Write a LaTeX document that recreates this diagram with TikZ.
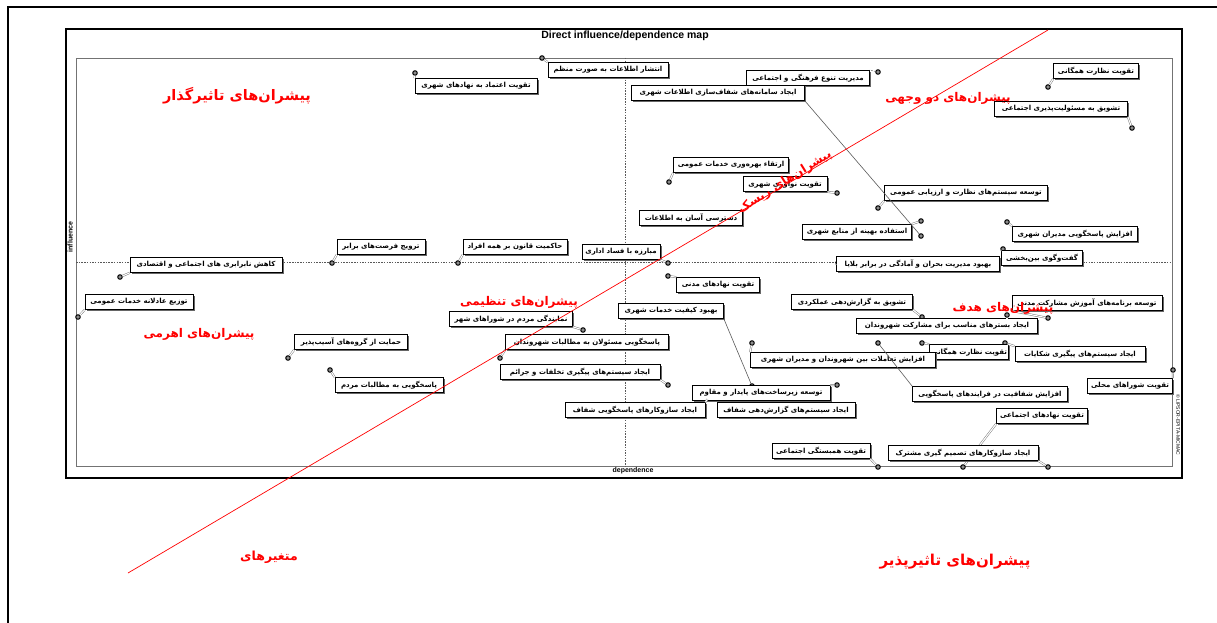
\documentclass[tikz,border=0pt]{standalone}
\usepackage{fontspec}
\setmainfont{Liberation Sans}
\newfontfamily\fa[Script=Arabic]{DejaVu Sans}
\TeXXeTstate=1
\usetikzlibrary{shadows}
\tikzset{
  lbl/.style={draw=black, fill=white, line width=0.7pt, inner xsep=1.5pt, inner ysep=1pt,
    minimum height=15pt, font=\fa\bfseries\fontsize{7}{8}\selectfont,
    drop shadow={shadow xshift=1.8pt, shadow yshift=-1.8pt, fill=black!60, opacity=1}},
  dot/.style={circle, draw=black, fill=black!45, line width=1pt, inner sep=0pt, minimum size=4.5pt},
  conn/.style={draw=black!55, double=white, double distance=1.1pt, line width=0.45pt},
  longconn/.style={draw=black!65, line width=0.6pt},
  axis/.style={draw=black!65, line width=0.5pt, dash pattern=on 1.5pt off 1.2pt},
  redlbl/.style={text=red, inner sep=0pt, font=\fa\bfseries\fontsize{12}{14}\selectfont},
}
\newcommand\lb[4]{\node[lbl, minimum width=#3pt] (#1) at (#2) {#4};}
\begin{document}
\begin{tikzpicture}[x=1pt,y=-1pt]
\useasboundingbox (0,0) rectangle (1217,623);
% page border
\coordinate (pTL) at (8,7);
\coordinate (pTR) at (1217,7);
\coordinate (pBL) at (8,623);
\draw[line width=1.4pt] (pBL) -- (pTL) -- (pTR);
% plot frame
\node[draw=black, line width=1.6pt, minimum width=1116pt, minimum height=449pt, inner sep=0pt] (frame) at (624,253.5) {};
\node[draw=black!55, line width=0.6pt, minimum width=1096pt, minimum height=408pt, inner sep=0pt] (plot) at (624,262) {};
\node[font=\bfseries\fontsize{10.5}{12}\selectfont, inner sep=0pt] (title) at (625,36) {Direct influence/dependence map};
\node[font=\bfseries\fontsize{7}{8}\selectfont, inner sep=0pt] (dep) at (633,471) {dependence};
\node[font=\bfseries\fontsize{7}{8}\selectfont, inner sep=0pt, rotate=90] (inf) at (70,237) {influence};
\node[font=\fontsize{5}{6}\selectfont, inner sep=0pt, rotate=-90] (copy) at (1178,425) {\textcopyright\,LIPSOR-EPITA-MICMAC};
% axes
\coordinate (vt) at (625,58);
\coordinate (vb) at (625,466);
\coordinate (hl) at (76,262);
\coordinate (hr) at (1172,262);
\draw[axis] (vt) -- (vb);
\draw[axis] (hl) -- (hr);

% markers
\node[dot] (m1) at (542,58) {};
\node[dot] (m2) at (415,73) {};
\node[dot] (m3) at (878,72) {};
\node[dot] (m4) at (921,236) {};
\node[dot] (m5) at (1048,87) {};
\node[dot] (m6) at (1132,128) {};
\node[dot] (m7) at (669,182) {};
\node[dot] (m8) at (837,193) {};
\node[dot] (m10) at (458,263) {};
\node[dot] (m11) at (668,263) {};
\node[dot] (m12) at (668,276) {};
\node[dot] (m13) at (120,277) {};
\node[dot] (m14) at (332,263) {};
\node[dot] (m15) at (78,317) {};
\node[dot] (m16) at (878,208) {};
\node[dot] (m17) at (921,221) {};
\node[dot] (m18) at (1007,222) {};
\node[dot] (m19) at (1003,249) {};
\node[dot] (m20) at (838,263) {};
\node[dot] (m21) at (288,358) {};
\node[dot] (m22) at (330,370) {};
\node[dot] (m23) at (583,330) {};
\node[dot] (m24) at (500,358) {};
\node[dot] (m25) at (668,385) {};
\node[dot] (m26) at (752,386) {};
\node[dot] (m27) at (837,385) {};
\node[dot] (m28) at (709,397) {};
\node[dot] (m30) at (922,317) {};
\node[dot] (m31) at (1048,318) {};
\node[dot] (m32) at (1007,315) {};
\node[dot] (m33) at (922,343) {};
\node[dot] (m34) at (1005,343) {};
\node[dot] (m35) at (752,343) {};
\node[dot] (m36) at (878,343) {};
\node[dot] (m37) at (1173,370) {};
\node[dot] (m38) at (963,467) {};
\node[dot] (m39) at (1048,467) {};
\node[dot] (m40) at (878,467) {};

% labels
\lb{n1}{608,70}{120}{\beginR انتشار اطلاعات به صورت منظم\endR}
\lb{n2}{476,86}{122}{\beginR تقویت اعتماد به نهادهای شهری\endR}
\lb{n3}{808,78}{123}{\beginR مدیریت تنوع فرهنگی و اجتماعی\endR}
\lb{n5}{1096,71}{85}{\beginR تقویت نظارت همگانی\endR}
\lb{n6}{1061,109}{133}{\beginR تشویق به مسئولیت‌پذیری اجتماعی\endR}
\lb{n7}{731,165}{115}{\beginR ارتقاء بهره‌وری خدمات عمومی\endR}
\lb{n8}{785,184}{84}{\beginR تقویت نوآوری شهری\endR}
\lb{n9}{691,218}{103}{\beginR دسترسی آسان به اطلاعات\endR}
\lb{n10}{515,247}{104}{\beginR حاکمیت قانون بر همه افراد\endR}
\lb{n11}{621,252}{78}{\beginR مبارزه با فساد اداری\endR}
\lb{n12}{718,285}{83}{\beginR تقویت نهادهای مدنی\endR}
\lb{n13}{206,265}{152}{\beginR کاهش نابرابری های اجتماعی و اقتصادی\endR}
\lb{n14}{381,247}{88}{\beginR ترویج فرصت‌های برابر\endR}
\lb{n15}{139,302}{108}{\beginR توزیع عادلانه خدمات عمومی\endR}
\lb{n16}{966,193}{163}{\beginR توسعه سیستم‌های نظارت و ارزیابی عمومی\endR}
\lb{n17}{857,232}{109}{\beginR استفاده بهینه از منابع شهری\endR}
\lb{n18}{1075,234}{125}{\beginR افزایش پاسخگویی مدیران شهری\endR}
\lb{n20}{918,264}{163}{\beginR بهبود مدیریت بحران و آمادگی در برابر بلایا\endR}
\lb{n19}{1042,258}{81}{\beginR گفت‌وگوی بین‌بخشی\endR}
\lb{n21}{351,342}{113}{\beginR حمایت از گروه‌های آسیب‌پذیر\endR}
\lb{n22}{389,385}{108}{\beginR پاسخگویی به مطالبات مردم\endR}
\lb{n23}{511,319}{123}{\beginR نمایندگی مردم در شوراهای شهر\endR}
\lb{n24}{587,342}{163}{\beginR پاسخگویی مسئولان به مطالبات شهروندان\endR}
\lb{n25}{580,372}{160}{\beginR ایجاد سیستم‌های پیگیری تخلفات و جرائم\endR}
\lb{n26}{671,311}{105}{\beginR بهبود کیفیت خدمات شهری\endR}
\lb{n30}{852,302}{121}{\beginR تشویق به گزارش‌دهی عملکردی\endR}
\lb{n31}{1087,303}{150}{\beginR توسعه برنامه‌های آموزش مشارکت مدنی\endR}
\lb{n32}{947,326}{181}{\beginR ایجاد بسترهای مناسب برای مشارکت شهروندان\endR}
\lb{n33}{969,352}{78}{\beginR تقویت نظارت همگانی\endR}
\lb{n34}{1080,354}{130}{\beginR ایجاد سیستم‌های پیگیری شکایات\endR}
\lb{n35}{843,360}{185}{\beginR افزایش تعاملات بین شهروندان و مدیران شهری\endR}
\lb{n36}{990,394}{155}{\beginR افزایش شفافیت در فرایندهای پاسخگویی\endR}
\lb{n37}{1130,386}{85}{\beginR تقویت شوراهای محلی\endR}
\lb{n28}{635,410}{140}{\beginR ایجاد سازوکارهای پاسخگویی شفاف\endR}
\lb{n29}{786,410}{138}{\beginR ایجاد سیستم‌های گزارش‌دهی شفاف\endR}
\lb{n27}{761,393}{138}{\beginR توسعه زیرساخت‌های پایدار و مقاوم\endR}
\lb{n38}{1042,416}{91}{\beginR تقویت نهادهای اجتماعی\endR}
\lb{n40}{821,451}{98}{\beginR تقویت همبستگی اجتماعی\endR}
\lb{n4}{718,93}{173}{\beginR ایجاد سامانه‌های شفاف‌سازی اطلاعات شهری\endR}

% connectors
\draw[conn] (m1) -- (n1.north west);
\draw[conn] (m2) -- (n2.north west);
\draw[axis] (m3) -- (n3.north east);
\draw[longconn] (n4.south east) -- (m4);
\draw[conn] (m5) -- (n5.south west);
\draw[conn] (m6) -- (n6.south east);
\draw[conn] (m7) -- (n7.south west);
\draw[conn] (m8) -- (n8.south east);
\draw[conn] (m10) -- (n10.south west);
\draw[conn] (m11) -- (n11.south east);
\draw[conn] (m12) -- (n12.north west);
\draw[conn] (m13) -- (n13.south west);
\draw[conn] (m14) -- (n14.south west);
\draw[conn] (m15) -- (n15.south west);
\draw[conn] (m16) -- (n16.south west);
\draw[conn] (m17) -- (n17.north east);
\draw[conn] (m18) -- (n18.north west);
\draw[conn] (m19) -- (n19.north west);
\draw[conn] (m20) -- (n20.west);
\draw[conn] (m21) -- (n21.south west);
\draw[conn] (m22) -- (n22.north west);
\draw[conn] (m23) -- (n23.south east);
\draw[conn] (m24) -- (n24.south west);
\draw[conn] (m25) -- (n25.south east);
\draw[longconn] (n26.south east) -- (m26);
\draw[conn] (m27) -- (n27.north east);
\draw[conn] (m28) -- (n28.north east);
\draw[conn] (m30) -- (n30.south east);
\draw[conn] (m31) -- (n31.south west);
\draw[conn] (m32) -- (m32 |- n32.north);
\draw[conn] (m33) -- (n33.north west);
\draw[conn] (m34) -- (n34.north west);
\draw[conn] (m35) -- (n35.north west);
\draw[longconn] (m36) -- (n36.north west);
\draw[conn] (m37) -- (n37.north east);
\draw[conn] (m40) -- (n40.south east);
\draw[conn] (n38.south west) -- (m38);

\lb{n39}{963,453}{150}{\beginR ایجاد سازوکارهای تصمیم گیری مشترک\endR}
\draw[conn] (m39) -- (n39.south east);

% red diagonal and labels
\coordinate (rA) at (128,573);
\coordinate (rB) at (1048,30);
\draw[red, line width=0.7pt] (rA) -- (rB);
\node[redlbl, font=\fa\bfseries\fontsize{14.5}{16}\selectfont] (r1) at (237,96) {\beginR پیشران‌های تاثیرگذار\endR};
\node[redlbl] (r2) at (948,98) {\beginR پیشران‌های دو وجهی\endR};
\node[redlbl, rotate=32] (r3) at (785,182) {\beginR پیشران‌های ریسک\endR};
\node[redlbl] (r4) at (519,302) {\beginR پیشران‌های تنظیمی\endR};
\node[redlbl] (r5) at (199,334) {\beginR پیشران‌های اهرمی\endR};
\node[redlbl] (r6) at (1003,308) {\beginR پیشران‌های هدف\endR};
\node[redlbl, font=\fa\bfseries\fontsize{12.5}{14}\selectfont] (r7) at (269,557) {\beginR متغیرهای\endR};
\node[redlbl, font=\fa\bfseries\fontsize{15}{17}\selectfont] (r8) at (955,562) {\beginR پیشران‌های تاثیرپذیر\endR};
\end{tikzpicture}
\end{document}
